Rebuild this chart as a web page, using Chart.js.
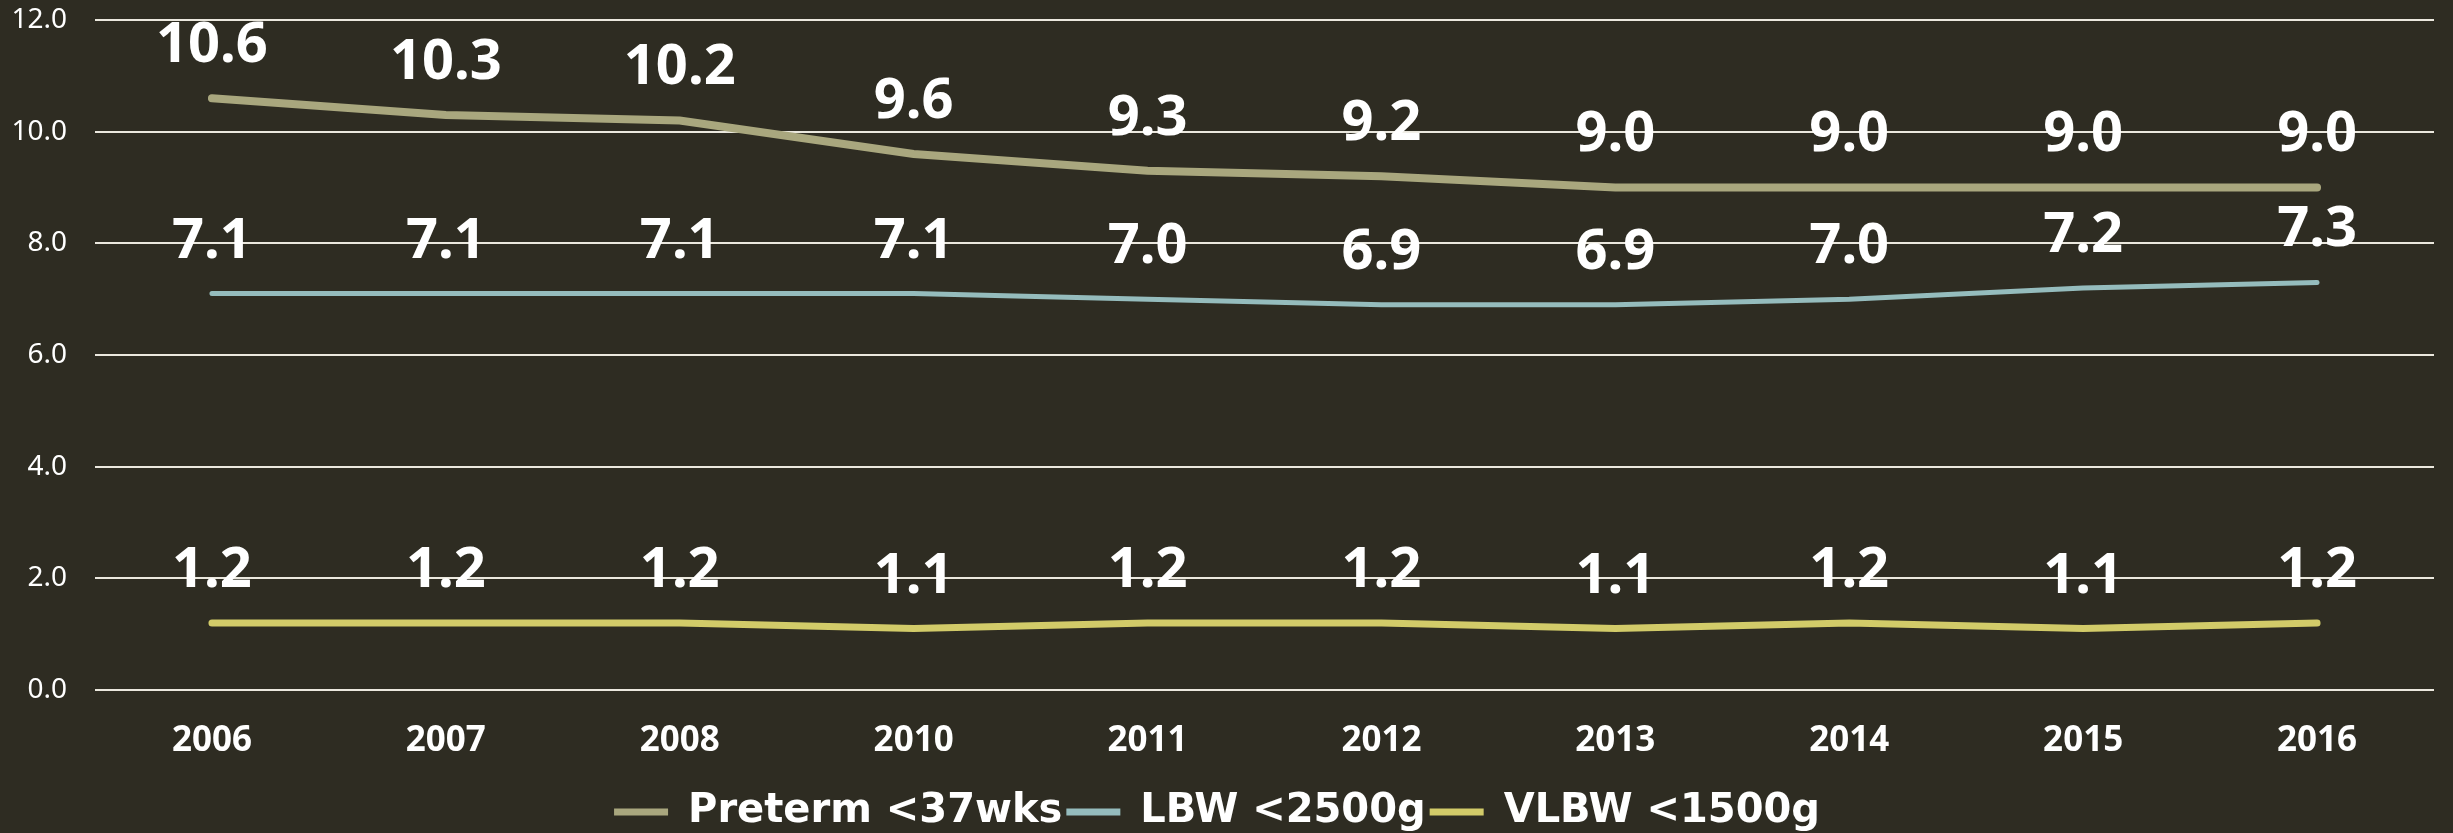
<!DOCTYPE html>
<html>
<head>
<meta charset="utf-8">
<script src="https://cdn.jsdelivr.net/npm/chart.js@4.4.1/dist/chart.umd.min.js"></script>
<style>
  html, body { margin: 0; padding: 0; background: #2e2c22; }
  #wrap { width: 2453px; height: 833px; }
</style>
</head>
<body>
<div id="wrap"><canvas id="myChart"></canvas></div>
<script>
const years = ["2006", "2007", "2008", "2010", "2011", "2012", "2013", "2014", "2015", "2016"];
const preterm = [10.6, 10.3, 10.2, 9.6, 9.3, 9.2, 9.0, 9.0, 9.0, 9.0];
const lbw = [7.1, 7.1, 7.1, 7.1, 7.0, 6.9, 6.9, 7.0, 7.2, 7.3];
const vlbw = [1.2, 1.2, 1.2, 1.1, 1.2, 1.2, 1.1, 1.2, 1.1, 1.2];
const seriesNames = ["Preterm <37wks", "LBW <2500g", "VLBW <1500g"];

const FONT = "'Noto Sans', Lato, sans-serif";

// value labels above each point
const valueLabels = {
    id: "valueLabels",
    afterDatasetsDraw(chart) {
        const ctx = chart.ctx;
        ctx.save();
        ctx.fillStyle = "#ffffff";
        ctx.font = "bold 56px " + FONT;
        ctx.textAlign = "center";
        ctx.textBaseline = "middle";
        chart.data.datasets.forEach((ds, i) => {
            const meta = chart.getDatasetMeta(i);
            meta.data.forEach((pt, j) => {
                ctx.fillText(ds.data[j].toFixed(1), pt.x, pt.y - 52);
            });
        });
        ctx.restore();
    },
};

const mk = (label, data, color, w) => ({
    label: label,
    data: data,
    borderColor: color,
    backgroundColor: color,
    borderWidth: w,
    pointRadius: 0,
    tension: 0,
    borderCapStyle: "round",
});

new Chart(document.getElementById("myChart"), {
    type: "line",
    data: {
        labels: years,
        datasets: [
            mk(seriesNames[0], preterm, "#a9a77e", 8),
            mk(seriesNames[1], lbw, "#95bcbd", 5),
            mk(seriesNames[2], vlbw, "#d2cb69", 7),
        ],
    },
    options: {
        responsive: true,
        maintainAspectRatio: false,
        animation: false,
        layout: { padding: { top: 20, right: 19, left: 0, bottom: -9 } },
        plugins: {
            tooltip: { enabled: false },
            legend: {
                position: "bottom",
                labels: {
                    color: "#ffffff",
                    font: { family: "'DejaVu Sans', sans-serif", size: 40, weight: "bold" },
                    boxWidth: 54,
                    boxHeight: 0,
                    padding: 4,
                    generateLabels: (chart) => {
                        const items = Chart.defaults.plugins.legend.labels.generateLabels(chart);
                        items.forEach((it) => { it.lineWidth = 7; it.lineCap = "round"; });
                        return items;
                    },
                },
            },
        },
        scales: {
            x: {
                offset: true,
                afterFit: (s) => { s.height = s.height + 4; },
                grid: { display: false },
                border: { display: false },
                ticks: {
                    color: "#ffffff",
                    font: { family: FONT, size: 35, weight: "bold" },
                    padding: 22,
                },
            },
            y: {
                min: 0,
                max: 12,
                afterFit: (s) => { s.width = 95; },
                grid: {
                    color: "#ebe8de",
                    lineWidth: 2,
                    drawTicks: true,
                    tickLength: 28,
                    tickColor: "rgba(0,0,0,0)",
                },
                border: { display: false },
                ticks: {
                    stepSize: 2,
                    color: "#ffffff",
                    padding: 0,
                    font: { family: FONT, size: 28 },
                    callback: (v) => v.toFixed(1),
                },
            },
        },
    },
    plugins: [valueLabels],
});
</script>
</body>
</html>
